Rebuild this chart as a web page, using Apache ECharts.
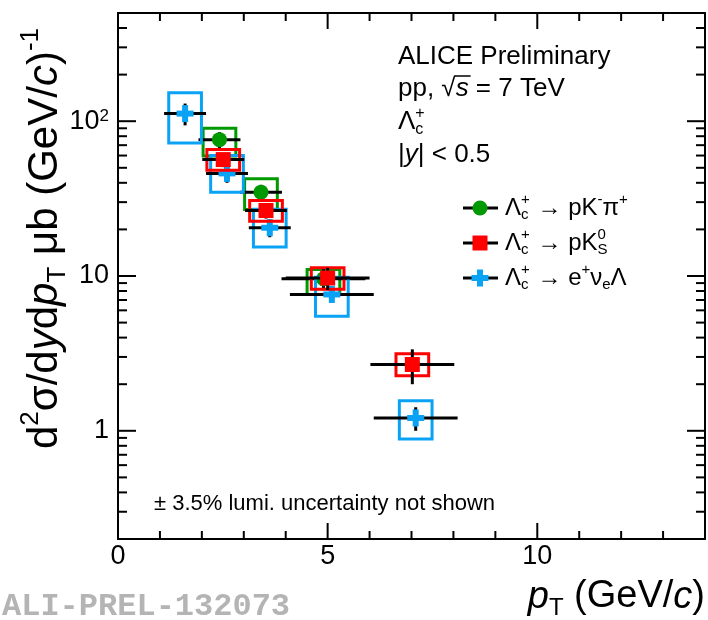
<!DOCTYPE html>
<html>
<head>
<meta charset="utf-8">
<script src="https://cdn.jsdelivr.net/npm/echarts@6/dist/echarts.min.js"></script>
<style>
html, body { margin: 0; padding: 0; background: #fff; }
#main { width: 708px; height: 620px; }
</style>
</head>
<body>
<div id="main"></div>
<script>
// Λc+ → pK−π+  (green)
var pkpiPt    = [2.42, 3.41, 4.90];
var pkpiPtErr = [0.5, 0.5, 1.0];
var pkpiVal   = [76.0, 34.8, 9.6];
var pkpiStat  = [9.0, 4.0, 1.5];
var pkpiSysLo = [59.5, 26.9, 7.6];
var pkpiSysHi = [90.0, 42.5, 11.0];

// Λc+ → pK0S  (red)
var pk0sPt    = [2.51, 3.53, 5.00, 7.02];
var pk0sPtErr = [0.5, 0.5, 1.0, 1.0];
var pk0sVal   = [56.5, 26.5, 9.7, 2.68];
var pk0sStat  = [6.0, 3.0, 1.6, 0.68];
var pk0sSysLo = [48.2, 22.6, 8.2, 2.27];
var pk0sSysHi = [65.6, 30.7, 11.3, 3.15];

// Λc+ → e+νeΛ  (blue)
var eLamPt    = [1.60, 2.60, 3.62, 5.10, 7.10];
var eLamPtErr = [0.5, 0.5, 0.5, 1.0, 1.0];
var eLamVal   = [112, 46, 20.5, 7.6, 1.21];
var eLamStat  = [18, 6, 2.7, 0.8, 0.21];
var eLamSysLo = [72.4, 34.8, 15.4, 5.5, 0.885];
var eLamSysHi = [152.6, 60, 27, 9.8, 1.565];

// axis ticks
var xMajorTicks = [0, 5, 10];
var xMinorTicks = [1, 2, 3, 4, 6, 7, 8, 9, 11, 12, 13];
var yMajorTicks = [1, 10, 100];
var yMinorTicks = [0.3, 0.4, 0.5, 0.6, 0.7, 0.8, 0.9,
                   2, 3, 4, 5, 6, 7, 8, 9,
                   20, 30, 40, 50, 60, 70, 80, 90,
                   200, 300, 400];

var FONT = '"Liberation Sans", Arial, Helvetica, sans-serif';
var GREEN = '#009900';
var RED = '#ff0000';
var BLUE = '#0aa2f5';
var BOX_HW = 0.39;   // half width of the systematic boxes (GeV/c)
var X_MIN = 0, X_MAX = 14, Y_MIN = 0.2, Y_MAX = 500;

var myChart = echarts.init(document.getElementById('main'));

// ---------- small text layout helper (sub/superscripts) ----------
var mctx = document.createElement('canvas').getContext('2d');
function measure(str, size, italic) {
    mctx.font = (italic ? 'italic ' : '') + size + 'px ' + FONT;
    return mctx.measureText(str).width;
}
function txt(t, x, y, size, italic) {
    return {
        type: 'text', x: x, y: y,
        style: {
            text: t, fontSize: size, fontFamily: FONT, fontStyle: italic ? 'italic' : 'normal',
            fill: '#000', align: 'left', verticalAlign: 'middle'
        }
    };
}
// parts: [text, kind]   kind: n, i, sup, sub, ol (italic + overbar), stack ([sup, sub])
function mathText(parts, size, align) {
    var small = Math.round(size * 0.62);
    var els = [], x = 0;
    parts.forEach(function (p) {
        var t = p[0], k = p[1];
        if (k === 'stack') {
            els.push(txt(t[0], x, -size * 0.33, small, false));
            els.push(txt(t[1], x, size * 0.3, small, false));
            x += Math.max(measure(t[0], small), measure(t[1], small)) + 1;
            return;
        }
        var it = (k === 'i' || k === 'ol');
        var sz = (k === 'sup' || k === 'sub') ? small : size;
        var dy = k === 'sup' ? -size * 0.33 : (k === 'sub' ? size * 0.3 : 0);
        els.push(txt(t, x, dy, sz, it));
        var w = measure(t, sz, it);
        if (k === 'ol') {
            els.push({ type: 'line', shape: { x1: x - 1, y1: -size * 0.5, x2: x + w + 2, y2: -size * 0.5 },
                       style: { stroke: '#000', lineWidth: 1.5 } });
        }
        x += w;
    });
    if (align === 'right') {
        els.forEach(function (e) {
            if (e.type === 'line') { e.shape.x1 -= x; e.shape.x2 -= x; } else { e.x -= x; }
        });
    }
    return els;
}

function markerEls(kind, cx, cy, color) {
    if (kind === 'circle') {
        return [{ type: 'circle', shape: { cx: cx, cy: cy, r: 7.5 }, style: { fill: color } }];
    }
    if (kind === 'square') {
        return [{ type: 'rect', shape: { x: cx - 7.5, y: cy - 7.5, width: 15, height: 15 }, style: { fill: color } }];
    }
    return [
        { type: 'rect', shape: { x: cx - 8.5, y: cy - 3, width: 17, height: 6 }, style: { fill: color } },
        { type: 'rect', shape: { x: cx - 3, y: cy - 8.5, width: 6, height: 17 }, style: { fill: color } }
    ];
}

function makeSeries(name, color, marker, pt, ptErr, val, stat, sysLo, sysHi) {
    var rows = pt.map(function (p, i) { return [p, val[i], ptErr[i], stat[i], sysLo[i], sysHi[i]]; });
    return {
        type: 'custom',
        name: name,
        xAxisIndex: 0,
        yAxisIndex: 0,
        data: rows,
        renderItem: function (params, api) {
            var x = api.value(0), y = api.value(1), ex = api.value(2), ey = api.value(3);
            var c = api.coord([x, y]);
            var xl = api.coord([x - ex, y])[0], xr = api.coord([x + ex, y])[0];
            var yt = api.coord([x, y + ey])[1], yb = api.coord([x, y - ey])[1];
            var p0 = api.coord([x - BOX_HW, api.value(5)]);
            var p1 = api.coord([x + BOX_HW, api.value(4)]);
            var ch = [
                { type: 'rect', shape: { x: p0[0], y: p0[1], width: p1[0] - p0[0], height: p1[1] - p0[1] },
                  style: { fill: 'none', stroke: color, lineWidth: 3 } },
                { type: 'line', shape: { x1: xl, y1: c[1], x2: xr, y2: c[1] }, style: { stroke: '#000', lineWidth: 3 } },
                { type: 'line', shape: { x1: c[0], y1: yt, x2: c[0], y2: yb }, style: { stroke: '#000', lineWidth: 3 } }
            ].concat(markerEls(marker, c[0], c[1], color));
            return { type: 'group', children: ch };
        }
    };
}

// frame ticks (ROOT style: on all four sides, pointing inwards)
function tickSeries(dim, values, len) {
    return {
        type: 'custom',
        xAxisIndex: 0,
        yAxisIndex: 0,
        silent: true,
        z: 5,
        data: values.map(function (v) { return dim === 'x' ? [v, 1] : [1, v]; }),
        renderItem: function (params, api) {
            var st = { stroke: '#000', lineWidth: 2 };
            if (dim === 'x') {
                var v = api.value(0);
                var b = api.coord([v, Y_MIN]), t = api.coord([v, Y_MAX]);
                return { type: 'group', children: [
                    { type: 'line', shape: { x1: b[0], y1: b[1], x2: b[0], y2: b[1] - len }, style: st },
                    { type: 'line', shape: { x1: t[0], y1: t[1], x2: t[0], y2: t[1] + len }, style: st }
                ] };
            }
            var w = api.value(1);
            var l = api.coord([X_MIN, w]), r = api.coord([X_MAX, w]);
            return { type: 'group', children: [
                { type: 'line', shape: { x1: l[0], y1: l[1], x2: l[0] + len, y2: l[1] }, style: st },
                { type: 'line', shape: { x1: r[0], y1: r[1], x2: r[0] - len, y2: r[1] }, style: st }
            ] };
        }
    };
}

function xAx(pos, showLabel) {
    return {
        type: 'value', min: X_MIN, max: X_MAX, interval: 5, position: pos,
        axisLine: { show: true, onZero: false, lineStyle: { color: '#000', width: 2 } },
        axisTick: { show: false },
        axisLabel: showLabel ? {
            customValues: xMajorTicks, fontSize: 27, fontFamily: FONT, color: '#000', margin: 4
        } : { show: false },
        splitLine: { show: false }
    };
}

function yAx(pos, showLabel) {
    return {
        type: 'log', logBase: 10, min: Y_MIN, max: Y_MAX, position: pos,
        axisLine: { show: true, onZero: false, lineStyle: { color: '#000', width: 2 } },
        axisTick: { show: false },
        axisLabel: showLabel ? {
            customValues: yMajorTicks, fontSize: 27, fontFamily: FONT, color: '#000', margin: 9,
            formatter: function (v) {
                var n = Math.round(Math.log(v) / Math.LN10);
                return n === 2 ? '10{sup|2}' : String(Math.round(v));
            },
            rich: { sup: { fontSize: 17, fontFamily: FONT, color: '#000', verticalAlign: 'top' } }
        } : { show: false },
        splitLine: { show: false }
    };
}

// ---------- annotations ----------
var graphics = [];
function place(x, y, els, rotation) {
    graphics.push({ type: 'group', x: x, y: y, rotation: rotation || 0, children: els });
}

place(398, 57, mathText([['ALICE Preliminary', 'n']], 26));
place(398, 89, mathText([['pp, ', 'n'], ['\u221A', 'n'], ['s', 'ol'], [' = 7 TeV', 'n']], 26));
place(398, 122, mathText([['\u039B', 'n'], [['+', 'c'], 'stack']], 26));
place(398, 155, mathText([['|', 'n'], ['y', 'i'], ['| < 0.5', 'n']], 26));

var legendRows = [
    { y: 208, kind: 'circle', color: GREEN,
      parts: [['\u039B', 'n'], [['+', 'c'], 'stack'], [' \u2192 pK', 'n'], ['-', 'sup'], ['\u03C0', 'n'], ['+', 'sup']] },
    { y: 243, kind: 'square', color: RED,
      parts: [['\u039B', 'n'], [['+', 'c'], 'stack'], [' \u2192 pK', 'n'], [['0', 'S'], 'stack']] },
    { y: 278, kind: 'cross', color: BLUE,
      parts: [['\u039B', 'n'], [['+', 'c'], 'stack'], [' \u2192 e', 'n'], ['+', 'sup'], ['\u03BD', 'n'], ['e', 'sub'], ['\u039B', 'n']] }
];
legendRows.forEach(function (r) {
    graphics.push({ type: 'line', shape: { x1: 463, y1: r.y, x2: 498, y2: r.y }, style: { stroke: '#000', lineWidth: 3 } });
    graphics.push({ type: 'group', children: markerEls(r.kind, 480, r.y, r.color) });
    place(505, r.y, mathText(r.parts, 24));
});

place(154, 504, mathText([['\u00B1 3.5% lumi. uncertainty not shown', 'n']], 22));

// axis titles
place(705, 597, mathText([['p', 'i'], ['T', 'sub'], [' (GeV/', 'n'], ['c', 'i'], [')', 'n']], 38, 'right'));
place(45, 28, mathText([['d', 'n'], ['2', 'sup'], ['\u03C3/d', 'n'], ['y', 'i'], ['d', 'n'], ['p', 'i'], ['T', 'sub'],
                        [' \u03BCb (GeV/', 'n'], ['c', 'i'], [')', 'n'], ['-1', 'sup']], 42, 'right'), Math.PI / 2);

graphics.push({
    type: 'text', x: 2, y: 607,
    style: { text: 'ALI-PREL-132073', fontSize: 32, fontWeight: 'bold', fontFamily: '"Liberation Mono", "DejaVu Sans Mono", monospace',
             fill: '#b4b4b4', align: 'left', verticalAlign: 'middle' }
});

var option = {
    animation: false,
    backgroundColor: '#fff',
    grid: { left: 118, right: 3, top: 13, bottom: 81, containLabel: false },
    xAxis: [xAx('bottom', true), xAx('top', false)],
    yAxis: [yAx('left', true), yAx('right', false)],
    series: [
        tickSeries('x', xMajorTicks, 16),
        tickSeries('x', xMinorTicks, 8),
        tickSeries('y', yMajorTicks, 18),
        tickSeries('y', yMinorTicks, 9),
        makeSeries('pKpi', GREEN, 'circle', pkpiPt, pkpiPtErr, pkpiVal, pkpiStat, pkpiSysLo, pkpiSysHi),
        makeSeries('eNuLambda', BLUE, 'cross', eLamPt, eLamPtErr, eLamVal, eLamStat, eLamSysLo, eLamSysHi),
        makeSeries('pK0S', RED, 'square', pk0sPt, pk0sPtErr, pk0sVal, pk0sStat, pk0sSysLo, pk0sSysHi)
    ],
    graphic: graphics
};
myChart.setOption(option);
</script>
</body>
</html>
